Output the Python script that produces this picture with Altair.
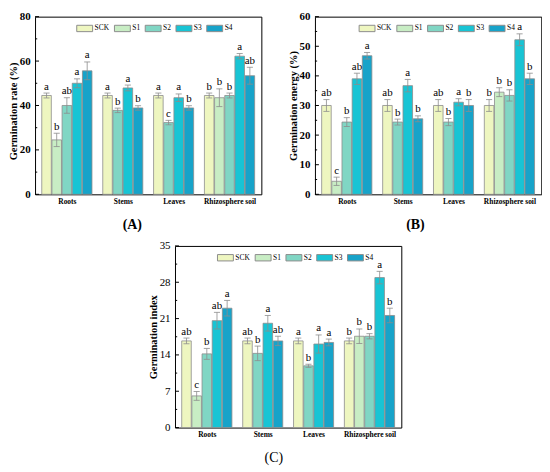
import altair as alt
import pandas as pd

groups = ["Roots", "Stems", "Leaves", "Rhizosphere soil"]
series = ["SCK", "S1", "S2", "S3", "S4"]
colors = ["#eef6c0", "#c8edc4", "#80d6c4", "#18c4d4", "#17a3c9"]

# Panel A: Germination rate (%)  rows = groups, columns = series (None = no bar)
rate_mean = [
    [44.5, 24.5, 40.0, 50.0, 55.6],
    [44.5, None, 37.8, 47.9, 38.9],
    [44.5, None, 32.3, 43.5, 38.9],
    [44.5, 43.5, 44.5, 62.2, 53.4],
]
rate_err = [
    [1.1, 3.0, 3.5, 2.0, 4.0],
    [1.1, 0.0, 1.0, 1.3, 1.0],
    [1.1, 0.0, 1.0, 1.7, 1.0],
    [1.1, 4.0, 1.1, 1.2, 3.8],
]
rate_sig = [
    ["a", "b", "ab", "a", "a"],
    ["a", "", "b", "a", "b"],
    ["a", "", "c", "a", "b"],
    ["b", "b", "b", "a", "ab"],
]

# Panel B: Germination energy (%)
energy_mean = [
    [30.0, 4.4, 24.4, 39.0, 46.8],
    [30.0, None, 24.4, 36.7, 25.5],
    [30.0, None, 24.4, 31.1, 30.0],
    [30.0, 34.5, 33.4, 52.2, 39.0],
]
energy_err = [
    [2.0, 1.4, 1.5, 1.9, 1.1],
    [2.0, 0.0, 1.0, 2.1, 1.0],
    [2.0, 0.0, 1.2, 1.2, 2.0],
    [2.0, 1.5, 1.9, 2.0, 1.9],
]
energy_sig = [
    ["ab", "c", "b", "ab", "a"],
    ["ab", "", "b", "a", "b"],
    ["ab", "", "b", "a", "b"],
    ["b", "b", "b", "a", "b"],
]

# Panel C: Germination index
index_mean = [
    [16.7, 6.1, 14.2, 20.6, 23.0],
    [16.7, None, 14.3, 20.1, 16.7],
    [16.7, None, 11.9, 16.1, 16.4],
    [16.7, 17.6, 17.6, 28.9, 21.6],
]
index_err = [
    [0.55, 0.85, 1.05, 1.6, 1.5],
    [0.55, 0.0, 1.4, 1.5, 0.9],
    [0.55, 0.0, 0.3, 1.75, 0.65],
    [0.55, 1.4, 0.5, 1.2, 1.4],
]
index_sig = [
    ["ab", "c", "b", "ab", "a"],
    ["ab", "", "b", "a", "ab"],
    ["a", "", "b", "a", "a"],
    ["b", "b", "b", "a", "b"],
]

rate_ticks = [0, 20, 40, 60, 80]
rate_minor = [10, 30, 50, 70]
energy_ticks = [0, 10, 20, 30, 40, 50, 60]
energy_minor = [5, 15, 25, 35, 45, 55]
index_ticks = [0, 7, 14, 21, 28, 35]
index_minor = [3.5, 10.5, 17.5, 24.5, 31.5]

FONT = "Liberation Serif"
GREY = "#8c8c8c"
W = 228


def build(means, errs, sigs):
    rows, centers, slot = [], [], 0
    for g, gname in enumerate(groups):
        start = slot
        for s, sname in enumerate(series):
            m = means[g][s]
            if m is None:
                continue
            e = errs[g][s]
            rows.append(dict(group=gname, series=sname, slot=slot, mean=m,
                             lo=m - e, hi=m + e, sig=sigs[g][s]))
            slot += 1
        centers.append((start + slot - 1) / 2)
        slot += 1
    df = pd.DataFrame(rows)
    df["xl"] = df["slot"] - 0.47
    df["xr"] = df["slot"] + 0.47
    df["cl"] = df["slot"] - 0.3
    df["cr"] = df["slot"] + 0.3
    return df, centers


def panel(means, errs, sigs, ticks, minor, ytitle, ptitle, legx, titlex,
          titley, tick_bold, ptitle_bold, height):
    df, centers = build(means, errs, sigs)
    nmax = float(df["slot"].max())
    xdom = [-1.13, nmax + 1.13]
    expr = "''"
    for c, g in reversed(list(zip(centers, groups))):
        expr = f"abs(datum.value - {c}) < 0.01 ? '{g}' : " + expr

    def X(field):
        return alt.X(field, type="quantitative",
                     scale=alt.Scale(domain=xdom, nice=False, zero=False),
                     axis=alt.Axis(values=centers, labelExpr=expr, title=ptitle,
                                   ticks=False, domain=False, grid=False,
                                   labelFlush=False, labelOverlap=False,
                                   labelFont=FONT, labelFontSize=7.5,
                                   labelFontWeight="bold", labelPadding=3,
                                   labelColor="black", titleFont=FONT,
                                   titleFontSize=14,
                                   titleFontWeight="bold" if ptitle_bold else "normal",
                                   titlePadding=13, titleX=titlex,
                                   titleColor="black"))

    def Y(field):
        extra = {"titleY": titley} if titley is not None else {}
        return alt.Y(field, type="quantitative",
                     scale=alt.Scale(domain=[ticks[0], ticks[-1]], nice=False),
                     axis=alt.Axis(values=ticks, title=ytitle, ticks=False,
                                   domain=False, grid=False, labelOverlap=False,
                                   labelFlush=False, labelFont=FONT,
                                   labelFontSize=11,
                                   labelFontWeight="bold" if tick_bold else "normal",
                                   labelPadding=5, labelColor="black",
                                   titleFont=FONT, titleFontSize=10.5,
                                   titleFontWeight="bold", titlePadding=0.5,
                                   titleColor="black", **extra))

    base = alt.Chart(df)
    bars = base.mark_bar(stroke=GREY, strokeWidth=0.8).encode(
        x=X("xl"), x2="xr", y=Y("mean"), y2=alt.datum(0),
        color=alt.Color("series:N", scale=alt.Scale(domain=series, range=colors),
                        legend=alt.Legend(
                            orient="none", legendX=legx, legendY=3.4,
                            direction="horizontal", title=None, gridAlign="none",
                            symbolType="M-1,-0.4H1V0.4H-1Z", symbolSize=256,
                            symbolStrokeColor=GREY, symbolStrokeWidth=1,
                            labelFont=FONT, labelFontSize=7.5, labelColor="black",
                            labelOffset=1.5, columnPadding=2, padding=0)),
    )
    err = base.mark_rule(color=GREY, strokeWidth=0.8).encode(
        x=X("slot"), y=Y("lo"), y2="hi")
    cap_hi = base.mark_rule(color=GREY, strokeWidth=0.8).encode(
        x=X("cl"), x2="cr", y=Y("hi"))
    cap_lo = base.mark_rule(color=GREY, strokeWidth=0.8).encode(
        x=X("cl"), x2="cr", y=Y("lo"))
    txt = base.mark_text(baseline="bottom", dy=-1.5, font=FONT, fontSize=11,
                         color="black").encode(
        x=X("slot"), y=Y("hi"), text="sig:N")
    tmaj = alt.Chart(pd.DataFrame({"v": ticks})).mark_rule(
        color="black", strokeWidth=1).encode(
        y=Y("v"), x=alt.value(0), x2=alt.value(4))
    tmin = alt.Chart(pd.DataFrame({"v": minor})).mark_rule(
        color="black", strokeWidth=1).encode(
        y=Y("v"), x=alt.value(0), x2=alt.value(2.2))
    return alt.layer(bars, err, cap_hi, cap_lo, txt, tmaj, tmin).properties(
        width=W, height=height)


pA = panel(rate_mean, rate_err, rate_sig, rate_ticks, rate_minor,
           "Germination rate (%)", "(A)", 41.5, 97.5, 95, True, True, 179)
pB = panel(energy_mean, energy_err, energy_sig, energy_ticks, energy_minor,
           "Germination energy (%)", "(B)", 44, 100.7, None, True, True, 179)
pC = panel(index_mean, index_err, index_sig, index_ticks, index_minor,
           "Germination index", "(C)", 42.3, 99, None, False, False, 183)

top = alt.hconcat(pA, pB, spacing=26).resolve_scale(color="independent")
chart = alt.vconcat(top, pC, spacing=7, center=True).resolve_scale(
    color="independent").properties(
    padding=0,
    background="white",
).configure_view(stroke="black", strokeWidth=1)

chart.save("out.html", embed_options={"renderer": "svg", "actions": False})
